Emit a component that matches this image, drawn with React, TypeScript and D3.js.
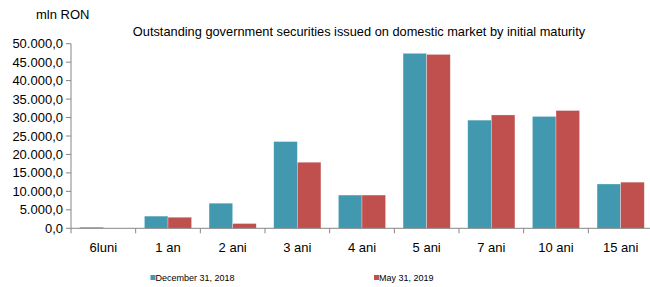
import {useEffect, useRef} from 'react';
import * as d3 from 'd3';

// data
const categories = ['6luni', '1 an', '2 ani', '3 ani', '4 ani', '5 ani', '7 ani', '10 ani', '15 ani'];
const dec2018 = [300, 3300, 6800, 23500, 9000, 47400, 29300, 30300, 12000];
const may2019 = [0, 3000, 1300, 17900, 9000, 47100, 30700, 31900, 12500];
const seriesNames = ['December 31, 2018', 'May 31, 2019'];
const yTicks = [0, 5000, 10000, 15000, 20000, 25000, 30000, 35000, 40000, 45000, 50000];

// parameters
const width = 650;
const height = 287;
const left = 71;
const right = 653;
const top = 43.7;
const bottom = 228.3;
const colors = ['#4198AF', '#C0504D'];
const axisColor = '#868686';
const font = 'Liberation Sans, Arial, sans-serif';

const roLocale = d3.formatLocale({decimal: ',', thousands: '.', grouping: [3], currency: ['', '']});
const fmt = roLocale.format(',.1f');

export default function App() {
  const ref = useRef(null);
  useEffect(() => {
    if (!ref.current)
      return;
    const svg = d3.select(ref.current);
    svg.selectAll('*').remove();

    const x = d3.scaleBand().domain(categories).range([left, right]).paddingInner(0).paddingOuter(0);
    const x1 = d3.scaleBand().domain(seriesNames).range([0, x.bandwidth()]).paddingInner(0).paddingOuter(0.37);
    const y = d3.scaleLinear().domain([0, 50000]).range([bottom, top]);

    // bars
    const series = [dec2018, may2019];
    series.forEach((vals, si) => {
      svg.append('g')
        .selectAll('rect')
        .data(vals)
        .enter()
        .append('rect')
        .attr('x', (d, i) => (x(categories[i]) || 0) + (x1(seriesNames[si]) || 0))
        .attr('y', d => y(d))
        .attr('width', x1.bandwidth())
        .attr('height', d => bottom - y(d))
        .attr('fill', colors[si])
        .attr('stroke', d => d > 0 ? '#ffffff' : 'none')
        .attr('stroke-opacity', 0.5)
        .attr('stroke-width', 0.6);
    });

    // y axis
    svg.append('line')
      .attr('x1', left).attr('x2', left)
      .attr('y1', top).attr('y2', bottom)
      .attr('stroke', axisColor);
    const yt = svg.append('g').selectAll('g').data(yTicks).enter().append('g');
    yt.append('line')
      .attr('x1', left - 5).attr('x2', left)
      .attr('y1', d => y(d)).attr('y2', d => y(d))
      .attr('stroke', axisColor);
    yt.append('text')
      .attr('x', 63)
      .attr('y', d => y(d) + 4.5)
      .attr('text-anchor', 'end')
      .style('font-family', font)
      .style('font-size', '13px')
      .attr('fill', '#000')
      .text(d => fmt(d));

    // x axis
    svg.append('line')
      .attr('x1', left).attr('x2', right)
      .attr('y1', bottom).attr('y2', bottom)
      .attr('stroke', axisColor);
    const bounds = categories.map(c => x(c) || 0).concat([right]);
    svg.append('g').selectAll('line').data(bounds).enter().append('line')
      .attr('x1', d => d).attr('x2', d => d)
      .attr('y1', bottom).attr('y2', bottom + 5)
      .attr('stroke', axisColor);
    svg.append('g').selectAll('text').data(categories).enter().append('text')
      .attr('x', d => (x(d) || 0) + x.bandwidth() / 2)
      .attr('y', 252)
      .attr('text-anchor', 'middle')
      .style('font-family', font)
      .style('font-size', '13px')
      .text(d => d);

    // titles
    svg.append('text')
      .attr('x', 36).attr('y', 19)
      .style('font-family', font)
      .style('font-size', '13px')
      .text('mln RON');
    svg.append('text')
      .attr('x', 359).attr('y', 36)
      .attr('text-anchor', 'middle')
      .style('font-family', font)
      .style('font-size', '12.8px')
      .text('Outstanding government securities issued on domestic market by initial maturity');

    // legend
    const legendX = [150.5, 374];
    seriesNames.forEach((name, i) => {
      svg.append('rect')
        .attr('x', legendX[i]).attr('y', 275)
        .attr('width', 5).attr('height', 5)
        .attr('fill', colors[i]);
      svg.append('text')
        .attr('x', legendX[i] + 5).attr('y', 281)
        .style('font-family', font)
        .style('font-size', '9px')
        .text(name);
    });
  }, [ref]);
  return <svg
    ref={ref}
    width={width}
    height={height}
    style={{position: 'absolute', left: 0, top: 0, background: '#fff'}}
  />;
}
